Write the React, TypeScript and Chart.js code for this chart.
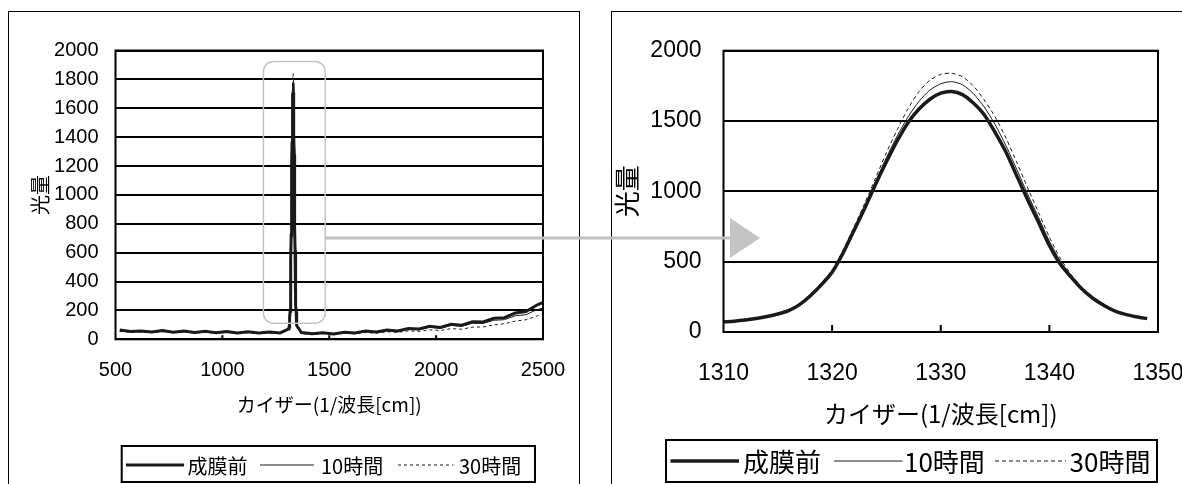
import React, { useEffect, useRef } from "react";
import { Chart, registerables } from "chart.js";

Chart.register(...registerables);

// ---------- text ----------
const SERIES_LABELS = ["成膜前", "10時間", "30時間"];
const X_TITLE = "カイザー(1/波長[cm])";
const Y_TITLE = "光量";

// ---------- wide spectrum (baseline outside the peak window) ----------
const WIDE_X = [520, 570, 620, 670, 720, 770, 820, 870, 920, 970, 1020, 1070, 1120, 1170, 1220, 1270,
  1370, 1420, 1470, 1520, 1570, 1620, 1670, 1720, 1770, 1820, 1870, 1920, 1970, 2020, 2070, 2120, 2170,
  2220, 2270, 2320, 2370, 2420, 2470, 2500];
const WIDE_BEFORE = [64, 54, 58, 50, 60, 49, 57, 47, 55, 46, 54, 44, 52, 43, 50, 44,
  47, 38, 46, 37, 48, 44, 57, 50, 64, 58, 74, 72, 90, 82, 104, 98, 122,
  120, 146, 150, 182, 192, 236, 255];
const WIDE_10H = [58, 52, 55, 48, 56, 47, 54, 45, 52, 44, 51, 42, 49, 41, 47, 42,
  43, 36, 43, 35, 45, 41, 53, 47, 60, 54, 69, 66, 83, 76, 96, 90, 111,
  110, 132, 136, 163, 170, 205, 215];
const WIDE_30H = [55, 50, 52, 46, 53, 45, 51, 43, 49, 42, 48, 40, 46, 39, 44, 40,
  40, 34, 40, 33, 42, 38, 47, 42, 52, 48, 58, 55, 66, 61, 74, 70, 84,
  86, 100, 108, 126, 135, 160, 178];

// ---------- peak window (detail) ----------
const PEAK_X = [1310, 1311, 1312, 1313, 1314, 1315, 1316, 1317, 1318, 1319, 1320, 1321, 1322, 1323, 1324,
  1325, 1326, 1327, 1328, 1329, 1330, 1331, 1332, 1333, 1334, 1335, 1336, 1337, 1338, 1339, 1340, 1341,
  1342, 1343, 1344, 1345, 1346, 1347, 1348, 1349];
const PEAK_BEFORE = [72, 77, 85, 96, 110, 128, 152, 195, 258, 335, 425, 560, 720, 880, 1050,
  1210, 1360, 1490, 1585, 1655, 1698, 1710, 1688, 1628, 1545, 1420, 1280, 1110, 940, 780, 615, 483,
  390, 305, 240, 190, 150, 125, 108, 95];
const PEAK_10H = [70, 76, 84, 95, 110, 130, 155, 198, 262, 340, 432, 568, 730, 895, 1070,
  1240, 1395, 1530, 1640, 1720, 1765, 1780, 1758, 1695, 1600, 1475, 1325, 1155, 980, 815, 645, 505,
  400, 312, 245, 194, 153, 128, 110, 98];
const PEAK_30H = [68, 78, 87, 98, 112, 132, 158, 202, 268, 348, 442, 580, 745, 915, 1095,
  1275, 1440, 1590, 1710, 1790, 1832, 1840, 1815, 1750, 1650, 1530, 1380, 1205, 1025, 850, 675, 525,
  410, 318, 250, 198, 156, 130, 112, 100];

// ---------- ticks ----------
const LEFT_X_TICKS = [500, 1000, 1500, 2000, 2500];
const LEFT_Y_TICKS = [0, 200, 400, 600, 800, 1000, 1200, 1400, 1600, 1800, 2000];
const RIGHT_X_TICKS = [1310, 1320, 1330, 1340, 1350];
const RIGHT_Y_TICKS = [0, 500, 1000, 1500, 2000];

// zoom window marked on the wide chart (data units)
const ZOOM_BOX = { x0: 1192, x1: 1481, y0: 111, y1: 1924 };

type Pt = { x: number; y: number };

function mergeSeries(wx: number[], wy: number[], px: number[], py: number[]): Pt[] {
  const pts: Pt[] = [];
  wx.forEach((x, i) => {
    if (x < px[0] || x > px[px.length - 1]) pts.push({ x, y: wy[i] });
  });
  px.forEach((x, i) => pts.push({ x, y: py[i] }));
  return pts.sort((a, b) => a.x - b.x);
}

function zip(xs: number[], ys: number[]): Pt[] {
  return xs.map((x, i) => ({ x, y: ys[i] }));
}

const LINE_COLOR = "#1a1a1a";

const frameTicksPlugin = {
  id: "frameTicks",
  afterDatasetsDraw(chart: any, _args: any, opts: any) {
    const { ctx, chartArea: a } = chart;
    const xs = chart.scales.x;
    ctx.save();
    ctx.strokeStyle = opts.color;
    ctx.lineWidth = opts.lineWidth;
    ctx.strokeRect(a.left, a.top, a.right - a.left, a.bottom - a.top);
    ctx.beginPath();
    xs.ticks.forEach((t: any) => {
      const px = xs.getPixelForValue(t.value);
      if (px > a.left + 2 && px < a.right - 2) {
        ctx.moveTo(px, a.bottom);
        ctx.lineTo(px, a.bottom - opts.tickLen);
      }
    });
    ctx.stroke();
    ctx.restore();
  },
};

const zoomBoxPlugin = {
  id: "zoomBox",
  afterDraw(chart: any, _args: any, opts: any) {
    if (!opts || !opts.box) return;
    const { ctx } = chart;
    const xs = chart.scales.x;
    const ys = chart.scales.y;
    const l = xs.getPixelForValue(opts.box.x0);
    const r = xs.getPixelForValue(opts.box.x1);
    const t = ys.getPixelForValue(opts.box.y1);
    const b = ys.getPixelForValue(opts.box.y0);
    ctx.save();
    ctx.strokeStyle = opts.color;
    ctx.lineWidth = opts.lineWidth;
    ctx.beginPath();
    (ctx as any).roundRect(l, t, r - l, b - t, opts.radius);
    ctx.stroke();
    ctx.restore();
  },
};

const boxLegendPlugin = {
  id: "boxLegend",
  afterDraw(chart: any, _args: any, opts: any) {
    const { ctx } = chart;
    ctx.save();
    ctx.strokeStyle = "#000";
    ctx.lineWidth = opts.boxLineWidth;
    ctx.strokeRect(opts.box.x, opts.box.y, opts.box.w, opts.box.h);
    ctx.font = opts.font;
    ctx.textBaseline = "middle";
    ctx.textAlign = "left";
    ctx.fillStyle = "#000";
    chart.data.datasets.forEach((ds: any, i: number) => {
      const it = opts.items[i];
      ctx.beginPath();
      ctx.lineWidth = ds.borderWidth;
      ctx.setLineDash(ds.borderDash || []);
      ctx.strokeStyle = ds.borderColor;
      ctx.moveTo(it.l0, opts.y);
      ctx.lineTo(it.l1, opts.y);
      ctx.stroke();
      ctx.setLineDash([]);
      ctx.fillText(ds.label, it.t, opts.y + 1);
    });
    ctx.restore();
  },
};

function makeDatasets(data: Pt[][], dash: number[], thick: number, tension: number) {
  return [
    { label: SERIES_LABELS[0], data: data[0], borderColor: LINE_COLOR, borderWidth: thick, pointRadius: 0, tension, fill: false },
    { label: SERIES_LABELS[1], data: data[1], borderColor: LINE_COLOR, borderWidth: 1, pointRadius: 0, tension, fill: false },
    { label: SERIES_LABELS[2], data: data[2], borderColor: LINE_COLOR, borderWidth: 1, borderDash: dash, pointRadius: 0, tension, fill: false },
  ];
}

function buildConfig(p: any): any {
  return {
    type: "line",
    data: { datasets: makeDatasets(p.data, p.dash, p.thick, p.tension) },
    plugins: [frameTicksPlugin, zoomBoxPlugin, boxLegendPlugin],
    options: {
      animation: false,
      responsive: false,
      devicePixelRatio: 1,
      events: [],
      layout: { padding: { left: 0, top: p.area.top, right: p.area.right, bottom: 0 } },
      scales: {
        x: {
          type: "linear",
          min: p.xTicks[0],
          max: p.xTicks[p.xTicks.length - 1],
          afterBuildTicks: (ax: any) => { ax.ticks = p.xTicks.map((value: number) => ({ value })); },
          afterFit: (ax: any) => { ax.height = p.area.xh; ax.paddingLeft = 0; ax.paddingRight = 0; },
          grid: { display: false, drawTicks: false },
          border: { display: false },
          ticks: {
            autoSkip: false, maxRotation: 0, padding: p.xTickPad, color: "#000",
            font: { family: p.tickFamily, size: p.tickSize },
            callback: (v: any) => String(v),
          },
          title: {
            display: true, text: X_TITLE, color: "#000",
            font: { family: "'Noto Sans CJK JP'", size: p.xTitleSize },
            padding: { top: 0, bottom: p.xTitlePad },
          },
        },
        y: {
          type: "linear",
          min: p.yTicks[0],
          max: p.yTicks[p.yTicks.length - 1],
          afterBuildTicks: (ax: any) => { ax.ticks = p.yTicks.map((value: number) => ({ value })); },
          afterFit: (ax: any) => { ax.width = p.area.yw; ax.paddingTop = 0; ax.paddingBottom = 0; },
          grid: { color: "#000", lineWidth: 2, drawTicks: false },
          border: { display: false },
          ticks: {
            autoSkip: false, padding: p.yTickPad, color: "#000",
            font: { family: p.tickFamily, size: p.tickSize },
            callback: (v: any) => String(v),
          },
          title: {
            display: true, text: Y_TITLE, color: "#000",
            font: { family: "'Noto Sans CJK JP'", size: p.yTitleSize },
            padding: { top: p.yTitlePad, bottom: 0 },
          },
        },
      },
      plugins: {
        legend: { display: false },
        tooltip: { enabled: false },
        frameTicks: { color: "#000", lineWidth: 2, tickLen: p.tickLen },
        zoomBox: p.zoomBox,
        boxLegend: p.legend,
      },
    },
  };
}

export default function App() {
  const leftRef = useRef<HTMLCanvasElement>(null);
  const rightRef = useRef<HTMLCanvasElement>(null);

  useEffect(() => {
    const wide = [
      mergeSeries(WIDE_X, WIDE_BEFORE, PEAK_X, PEAK_BEFORE),
      mergeSeries(WIDE_X, WIDE_10H, PEAK_X, PEAK_10H),
      mergeSeries(WIDE_X, WIDE_30H, PEAK_X, PEAK_30H),
    ];
    const detail = [zip(PEAK_X, PEAK_BEFORE), zip(PEAK_X, PEAK_10H), zip(PEAK_X, PEAK_30H)];

    const left = new Chart(leftRef.current as HTMLCanvasElement, buildConfig({
      data: wide, dash: [3, 3], thick: 3, tension: 0,
      xTicks: LEFT_X_TICKS, yTicks: LEFT_Y_TICKS,
      area: { top: 38.5, right: 36, xh: 144.7, yw: 106.5 },
      tickFamily: "'Liberation Sans'", tickSize: 20,
      xTickPad: 19.5, yTickPad: 17,
      xTitleSize: 19, xTitlePad: 67.6, yTitleSize: 20, yTitlePad: 19,
      tickLen: 4,
      zoomBox: { box: ZOOM_BOX, color: "#c4c4c4", lineWidth: 1.5, radius: 10 },
      legend: {
        box: { x: 112.7, y: 434, w: 413.3, h: 36 }, boxLineWidth: 2, y: 453,
        font: "20px 'Noto Sans CJK JP'",
        items: [{ l0: 117, l1: 175, t: 178.5 }, { l0: 251, l1: 305, t: 312 }, { l0: 389, l1: 444.5, t: 450 }],
      },
    }));

    const right = new Chart(rightRef.current as HTMLCanvasElement, buildConfig({
      data: detail, dash: [4, 3], thick: 3.5, tension: 0.25,
      xTicks: RIGHT_X_TICKS, yTicks: RIGHT_Y_TICKS,
      area: { top: 38.7, right: 24, xh: 152, yw: 111.5 },
      tickFamily: "'Liberation Sans'", tickSize: 23,
      xTickPad: 28, yTickPad: 22,
      xTitleSize: 24, xTitlePad: 56, yTitleSize: 26, yTitlePad: 0,
      tickLen: 7,
      zoomBox: null,
      legend: {
        box: { x: 54, y: 428, w: 491, h: 42 }, boxLineWidth: 2, y: 449,
        font: "26px 'Noto Sans CJK JP'",
        items: [{ l0: 58.5, l1: 127, t: 131 }, { l0: 222, l1: 290.5, t: 292 }, { l0: 383, l1: 454, t: 457.6 }],
      },
    }));

    return () => {
      left.destroy();
      right.destroy();
    };
  }, []);

  return (
    <div style={{ position: "fixed", left: 0, top: 0, width: 1182, height: 484, background: "#fff", overflow: "hidden" }}>
      <div style={{ position: "absolute", left: 8, top: 11, width: 572, height: 500, border: "1px solid #000", boxSizing: "border-box" }} />
      <div style={{ position: "absolute", left: 611, top: 11, width: 600, height: 500, border: "1px solid #000", boxSizing: "border-box" }} />
      <canvas ref={leftRef} width={570} height={472} style={{ position: "absolute", left: 9, top: 12, width: 570, height: 472 }} />
      <canvas ref={rightRef} width={570} height={472} style={{ position: "absolute", left: 612, top: 12, width: 570, height: 472 }} />
      <svg width={1182} height={484} style={{ position: "absolute", left: 0, top: 0, pointerEvents: "none" }}>
        <line x1={325} y1={238} x2={731} y2={238} stroke="#c0c0c0" strokeWidth={3} />
        <polygon points="730,218 760,238 730,258" fill="#c4c4c4" />
      </svg>
    </div>
  );
}
